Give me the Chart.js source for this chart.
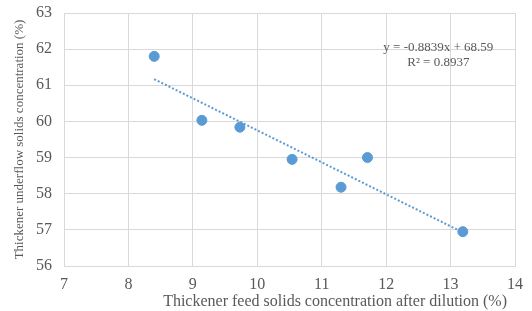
<!DOCTYPE html>
<html>
<head>
<meta charset="utf-8">
<script src="https://cdn.jsdelivr.net/npm/chart.js@4"></script>
<style>
  html, body { margin: 0; padding: 0; background: #fff; }
  #wrap { width: 532px; height: 311px; position: relative; }
</style>
</head>
<body>
<div id="wrap"><canvas id="dataChart"></canvas></div>
<script>
// values
const feedSolids = [8.40, 9.14, 9.73, 10.54, 11.30, 11.71, 13.19];
const underflowSolids = [61.80, 60.03, 59.84, 58.95, 58.18, 59.00, 56.95];
const trendX = [8.40, 13.19];
const trendY = [61.17, 56.93];
const equationLines = ['y = -0.8839x + 68.59', 'R\u00b2 = 0.8937'];
const xRange = [7, 14];
const yRange = [56, 63];

const textColor = '#595959';
const gridColor = '#d9d9d9';
const blue = '#5b9bd5';

const equationLabel = {
    id: 'equationLabel',
    afterDraw(chart) {
        const ctx = chart.ctx;
        const x = chart.scales.x.getPixelForValue(12.81);
        const y = chart.scales.y.getPixelForValue(62.03);
        ctx.save();
        ctx.font = '13px "Liberation Serif"';
        ctx.fillStyle = textColor;
        ctx.textAlign = 'center';
        ctx.textBaseline = 'middle';
        equationLines.forEach((line, i) => ctx.fillText(line, x, y + i * 15));
        ctx.restore();
    }
};

const ctx = document.getElementById('dataChart').getContext('2d');
new Chart(ctx, {
    type: 'scatter',
    data: {
        datasets: [{
            label: 'Data',
            data: feedSolids.map((x, i) => ({ x: x, y: underflowSolids[i] })),
            backgroundColor: blue,
            borderColor: blue,
            pointRadius: 5,
            pointHoverRadius: 5
        }, {
            label: 'Linear trend',
            data: trendX.map((x, i) => ({ x: x, y: trendY[i] })),
            showLine: true,
            borderColor: blue,
            borderWidth: 2,
            borderDash: [2, 2],
            pointRadius: 0,
            fill: false
        }]
    },
    options: {
        responsive: true,
        maintainAspectRatio: false,
        animation: false,
        layout: { padding: { top: 13, right: 17, left: 0, bottom: 0 } },
        plugins: {
            legend: { display: false },
            tooltip: { enabled: false }
        },
        scales: {
            x: {
                type: 'linear',
                min: xRange[0],
                max: xRange[1],
                afterFit: scale => {
                    scale.height = 45;
                    scale.paddingLeft = 0;
                    scale.paddingRight = 0;
                },
                ticks: {
                    stepSize: 1,
                    color: textColor,
                    padding: 9,
                    maxRotation: 0,
                    font: { family: 'Liberation Serif', size: 16 }
                },
                grid: { color: gridColor, drawTicks: false },
                border: { color: gridColor },
                title: {
                    display: true,
                    text: 'Thickener feed solids concentration after dilution (%)  ',
                    align: 'end',
                    color: textColor,
                    padding: { top: 0, bottom: 0 },
                    font: { family: 'Liberation Serif', size: 16 }
                }
            },
            y: {
                min: yRange[0],
                max: yRange[1],
                afterFit: scale => {
                    scale.width = 64;
                    scale.paddingTop = 0;
                    scale.paddingBottom = 0;
                },
                ticks: {
                    stepSize: 1,
                    color: textColor,
                    padding: 12,
                    font: { family: 'Liberation Serif', size: 16 }
                },
                grid: { color: gridColor, drawTicks: false },
                border: { color: gridColor },
                title: {
                    display: true,
                    text: 'Thickener underflow solids concentration (%)',
                    color: textColor,
                    padding: { top: 12, bottom: 0 },
                    font: { family: 'Liberation Serif', size: 13 }
                }
            }
        }
    },
    plugins: [equationLabel]
});
</script>
</body>
</html>
